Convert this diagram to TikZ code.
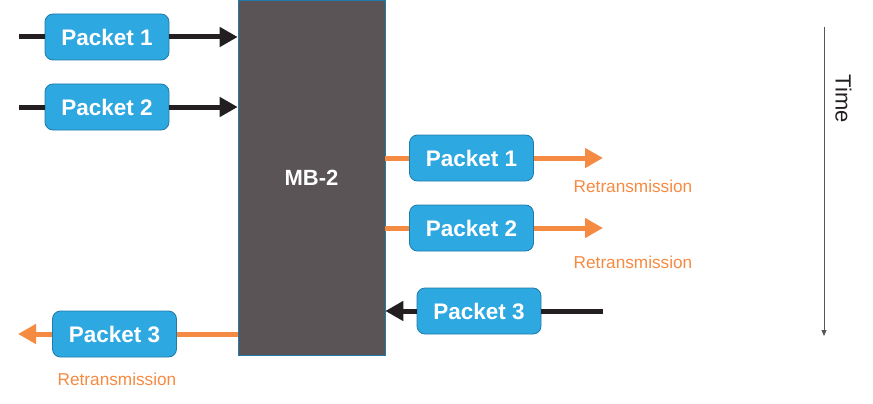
\documentclass[tikz,border=0pt]{standalone}
\usepackage{fontspec}
\setmainfont{Liberation Sans}
\usetikzlibrary{arrows.meta}
\definecolor{pkt}{HTML}{2EA8E0}
\definecolor{pktborder}{HTML}{1E7BAA}
\definecolor{mb}{HTML}{5B5456}
\definecolor{org}{HTML}{F58A42}
\definecolor{blk}{HTML}{231F20}
\definecolor{timec}{HTML}{5B5456}
\begin{document}
\begin{tikzpicture}[x=1pt,y=-1pt,
  packet/.style={draw=pktborder, line width=0.8pt, fill=pkt, rounded corners=8pt,
    minimum width=124pt, minimum height=46pt, inner sep=0pt,
    text=white, font=\fontsize{22.5}{26}\selectfont\bfseries},
  blackline/.style={draw=blk, line width=5pt},
  orangeline/.style={draw=org, line width=5pt},
  blackarrow/.style={blackline, -{Triangle[length=18pt,width=19pt]}},
  orangearrow/.style={orangeline, -{Triangle[length=18pt,width=19pt]}},
  retx/.style={text=org, font=\fontsize{17.2}{20}\selectfont},
]
\useasboundingbox (0,0) rectangle (873,404);
% middlebox
\node[draw=pktborder, line width=0.6pt, fill=mb, minimum width=147pt, minimum height=355pt, inner sep=0pt,
  text=white, font=\fontsize{22}{26}\selectfont\bfseries] (mb) at (311.5,177.5) {MB-2};
% coordinates
\coordinate (l1) at (19,37);
\coordinate (l2) at (19,107);
\coordinate (r1) at (603,158);
\coordinate (r2) at (603,228);
\coordinate (r3) at (603,311);
\coordinate (l3) at (18,334);
% packets
\node[packet] (p1) at (107,37) {Packet 1};
\node[packet] (p2) at (107,107) {Packet 2};
\node[packet] (q1) at (471.5,158) {Packet 1};
\node[packet] (q2) at (471.5,228) {Packet 2};
\node[packet] (q3) at (479,311) {Packet 3};
\node[packet] (s3) at (114.5,334) {Packet 3};
% incoming
\draw[blackline] (l1) -- (p1.west);
\draw[blackarrow] (p1.east) -- (p1.east -| mb.west);
\draw[blackline] (l2) -- (p2.west);
\draw[blackarrow] (p2.east) -- (p2.east -| mb.west);
% right retransmissions
\draw[orangeline] (q1.west -| mb.east) -- (q1.west);
\draw[orangearrow] (q1.east) -- (r1);
\draw[orangeline] (q2.west -| mb.east) -- (q2.west);
\draw[orangearrow] (q2.east) -- (r2);
% packet 3 from right
\draw[blackline] (r3) -- (q3.east);
\draw[blackarrow] (q3.west) -- (q3.west -| mb.east);
% packet 3 retransmission left
\draw[orangeline] (s3.east -| mb.west) -- (s3.east);
\draw[orangearrow] (s3.west) -- (l3);
% labels
\node[retx] (t1) at (633,186) {Retransmission};
\node[retx] (t2) at (633,262) {Retransmission};
\node[retx] (t3) at (117,379) {Retransmission};
% time axis
\coordinate (ta) at (824,27);
\coordinate (tb) at (824,336);
\draw[draw=timec, line width=0.8pt, -{Triangle[length=6pt,width=5pt]}] (ta) -- (tb);
\node[rotate=-90, text=blk, font=\fontsize{22}{26}\selectfont] (time) at (843.5,99) {Time};
\end{tikzpicture}
\end{document}
